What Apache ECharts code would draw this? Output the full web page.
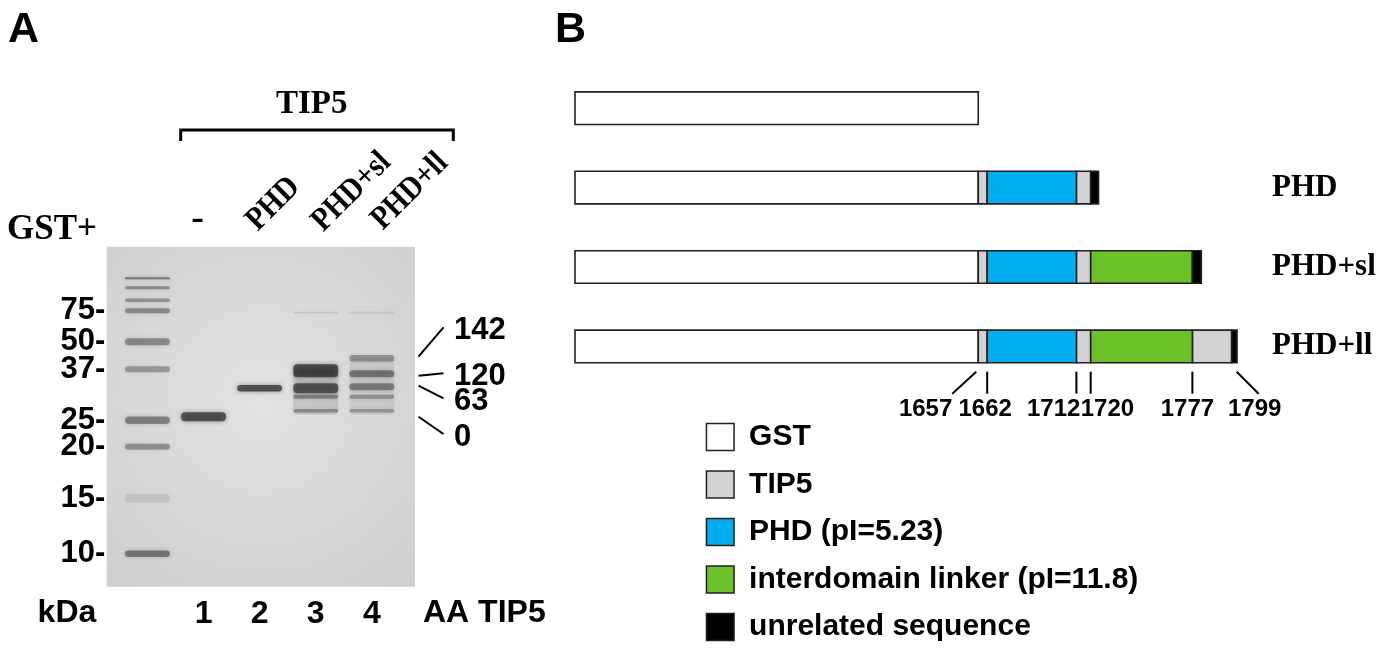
<!DOCTYPE html>
<html>
<head>
<meta charset="utf-8">
<script src="https://cdn.jsdelivr.net/npm/echarts@6/dist/echarts.min.js"></script>
<style>
  html, body { margin: 0; padding: 0; background: #fff; }
  #main { width: 1383px; height: 658px; }
</style>
</head>
<body>
<div id="main"></div>
<script>
// ---------- Panel A: gel (migration in mm from the wells) ----------
const lanes = ['marker', '1', '2', '3', '4'];
const ladderKDa = [250, 150, 100, 75, 50, 37, 25, 20, 15, 10];
const ladderMig = [6.3, 8.2, 10.7, 12.8, 19.0, 24.5, 34.7, 40.0, 50.3, 61.4];
const ladderInk = [0.55, 0.5, 0.45, 0.5, 0.5, 0.42, 0.55, 0.45, 0.12, 0.6];
const ladderSpread = [0.5, 0.6, 0.7, 1.0, 1.4, 1.2, 1.5, 1.2, 1.8, 1.3];
const markedKDa = [75, 50, 37, 25, 20, 15, 10];

// [lane, migration, ink, spread]
const sampleBands = [
  [1, 34.0, 0.85, 1.8],
  [2, 28.3, 0.85, 1.3],
  [3, 29.0, 0.16, 9.0],
  [3, 13.2, 0.15, 0.35],
  [3, 24.8, 0.9, 2.6],
  [3, 28.3, 0.8, 2.0],
  [3, 30.0, 0.5, 0.8],
  [3, 32.8, 0.42, 0.7],
  [4, 28.0, 0.1, 11.0],
  [4, 13.2, 0.12, 0.35],
  [4, 22.3, 0.45, 1.3],
  [4, 25.4, 0.6, 1.4],
  [4, 28.0, 0.55, 1.4],
  [4, 30.0, 0.42, 0.8],
  [4, 32.8, 0.38, 0.7]
];

// amino acids of TIP5 carried by the lane-4 species
const aaTicks = ['142', '120', '63', '0'];
const aaMig = [22.0, 25.8, 27.8, 34.0];

// ---------- Panel B: constructs (TIP5 residue numbering) ----------
const constructs = ['GST', 'PHD', 'PHD+sl', 'PHD+ll'];
const gstLength = 226;
const gstEnd = 1657;
const domainNames = ['GST', 'TIP5', 'PHD (pI=5.23)', 'interdomain linker (pI=11.8)', 'unrelated sequence'];
const domainColors = ['#ffffff', '#d1d2d4', '#00aeef', '#6cc12a', '#000000'];

// [start, end, row]
const gstSeg = [0, 1, 2, 3].map(r => [gstEnd - gstLength, gstEnd, r]);
const tip5Seg = [[1657, 1662, 1], [1712, 1720, 1], [1657, 1662, 2], [1712, 1720, 2],
                 [1657, 1662, 3], [1712, 1720, 3], [1777, 1799, 3]];
const phdSeg = [[1662, 1712, 1], [1662, 1712, 2], [1662, 1712, 3]];
const linkerSeg = [[1720, 1777, 2], [1720, 1777, 3]];
const unrelatedSeg = [[1720, 1724.4, 1], [1777, 1782, 2], [1799, 1802, 3]];
const tickPos = [1657, 1662, 1712, 1720, 1777, 1799];

const SANS = '"Liberation Sans", Arial, sans-serif';
const SERIF = '"Liberation Serif", "Times New Roman", serif';

const chart = echarts.init(document.getElementById('main'));

const ladderBands = ladderMig.map((m, i) => [0, m, ladderInk[i], ladderSpread[i]]);
const markerMig = markedKDa.map(k => ladderMig[ladderKDa.indexOf(k)]);

function renderBand(params, api) {
  const c = api.coord([api.value(0), api.value(1)]);
  const bw = api.size([1, 0])[0] * 0.8;
  const h = Math.abs(api.size([0, api.value(3)])[1]);
  const a = api.value(2) * 0.78;
  const col = 'rgba(35,35,35,' + a + ')';
  return {
    type: 'rect',
    shape: { x: c[0] - bw / 2, y: c[1] - h / 2, width: bw, height: h, r: Math.min(h / 2, 4) },
    style: { fill: col, shadowBlur: 5, shadowColor: col }
  };
}

// line and label offsets for the AA annotations (px)
const AA_SHIFT = [-29.4, -2.4, 12.6, 17.3];
function renderAA(params, api) {
  const rect = params.coordSys;
  const p = api.coord([api.value(0), api.value(1)]);
  const x0 = rect.x + rect.width + 18.6;
  const dy = AA_SHIFT[params.dataIndex];
  return {
    type: 'group',
    children: [
      { type: 'line', shape: { x1: x0, y1: p[1], x2: x0 + 25, y2: p[1] + dy },
        style: { stroke: '#000', lineWidth: 2 } },
      { type: 'text', style: { text: aaTicks[params.dataIndex], x: x0 + 35.5, y: p[1] + dy + 3,
        verticalAlign: 'middle', font: 'bold 31px ' + SANS, fill: '#000' } }
    ]
  };
}

function renderSegment(params, api) {
  const row = api.value(2);
  const p0 = api.coord([api.value(0), row]);
  const p1 = api.coord([api.value(1), row]);
  const h = api.size([0, 1])[1] * 0.41;
  return {
    type: 'rect',
    shape: { x: p0[0], y: p0[1] - h / 2, width: p1[0] - p0[0], height: h },
    style: { fill: api.visual('color'), stroke: '#231f20', lineWidth: 1.6 }
  };
}

// layout of the residue ticks under the last construct
const TICK_LAYOUT = [
  { x0: -2, dx: -24, lx: 0, align: 'right' },
  { x0: 0, dx: 0, lx: -2, align: 'center' },
  { x0: 0, dx: 0, lx: 4, align: 'right' },
  { x0: 0, dx: 0, lx: -10, align: 'left' },
  { x0: 0, dx: 0, lx: -5, align: 'center' },
  { x0: 5, dx: 22, lx: -4, align: 'center' }
];
function renderTick(params, api) {
  const t = TICK_LAYOUT[params.dataIndex];
  const p = api.coord([api.value(0), api.value(1)]);
  const h = api.size([0, 1])[1] * 0.41;
  const yb = p[1] + h / 2;
  const xs = p[0] + t.x0;
  return {
    type: 'group',
    children: [
      { type: 'line', shape: { x1: xs, y1: yb + 9, x2: xs + t.dx, y2: yb + 31 },
        style: { stroke: '#000', lineWidth: 2 } },
      { type: 'text', style: { text: String(api.value(0)), x: xs + t.dx + t.lx, y: yb + 47,
        align: t.align, verticalAlign: 'middle', font: 'bold 24px ' + SANS, fill: '#000' } }
    ]
  };
}

const domainSeries = [gstSeg, tip5Seg, phdSeg, linkerSeg, unrelatedSeg].map((segs, k) => ({
  type: 'custom',
  name: domainNames[k],
  xAxisIndex: 2,
  yAxisIndex: 2,
  renderItem: renderSegment,
  itemStyle: { color: domainColors[k] },
  encode: { x: [0, 1], y: 2 },
  data: segs
}));

const rotLabel = (text, x, y) => ({
  type: 'text', x: x, y: y, rotation: Math.PI / 4, scaleX: 0.88,
  style: { text: text, x: 0, y: 0, align: 'center', verticalAlign: 'middle',
           font: 'bold 33px ' + SERIF, fill: '#000' }
});

chart.setOption({
  animation: false,
  backgroundColor: '#fff',
  grid: [
    { left: 106.7, top: 246.7, width: 308.3, height: 340, show: true, borderWidth: 0,
      backgroundColor: { type: 'radial', x: 0.5, y: 0.45, r: 0.75,
        colorStops: [{ offset: 0, color: '#e3e3e3' }, { offset: 1, color: '#cfcfcf' }] } },
    { left: 119.4, top: 246.7, width: 280.5, height: 340 },
    { left: 575, top: 68.5, width: 662, height: 317.6 }
  ],
  xAxis: [
    { gridIndex: 0, type: 'value', show: false },
    { gridIndex: 1, type: 'category', data: lanes,
      axisLine: { show: false }, axisTick: { show: false }, splitLine: { show: false },
      axisLabel: { formatter: v => (v === 'marker' ? '' : v), margin: 27, verticalAlign: 'middle',
        fontSize: 32, fontWeight: 'bold', fontFamily: SANS, color: '#000' } },
    { gridIndex: 2, type: 'value', min: gstEnd - gstLength, max: 1802, show: false }
  ],
  yAxis: [
    { gridIndex: 0, type: 'value', show: false },
    { gridIndex: 1, type: 'value', inverse: true, min: 0, max: 68,
      axisLine: { show: false }, axisTick: { show: false }, splitLine: { show: false },
      axisLabel: { customValues: markerMig, margin: 14,
        formatter: v => markedKDa[markerMig.indexOf(v)] + '-',
        fontSize: 31, fontWeight: 'bold', fontFamily: SANS, color: '#000' } },
    { gridIndex: 2, type: 'category', data: constructs, inverse: true, position: 'right',
      axisLine: { show: false }, axisTick: { show: false }, splitLine: { show: false },
      axisLabel: { formatter: v => (v === 'GST' ? '' : v), margin: 35,
        fontSize: 31, fontWeight: 'bold', fontFamily: SERIF, color: '#000' } }
  ],
  legend: {
    orient: 'vertical', left: 700.7, top: 417, selectedMode: false,
    icon: 'rect', itemWidth: 27.6, itemHeight: 27, itemGap: 17.5,
    data: domainNames,
    itemStyle: { borderColor: '#231f20', borderWidth: 1.5 },
    textStyle: { fontSize: 30, fontWeight: 'bold', fontFamily: SANS, color: '#000',
                 lineHeight: 30, padding: [0, 0, 0, 10] }
  },
  graphic: [
    { type: 'text', x: 8, y: 30, style: { text: 'A', verticalAlign: 'middle', font: 'bold 43px ' + SANS, fill: '#000' } },
    { type: 'text', x: 555, y: 30, style: { text: 'B', verticalAlign: 'middle', font: 'bold 43px ' + SANS, fill: '#000' } },
    { type: 'text', x: 311.7, y: 104, style: { text: 'TIP5', align: 'center', verticalAlign: 'middle', font: 'bold 33px ' + SERIF, fill: '#000' } },
    { type: 'polyline', shape: { points: [[180.7, 141], [180.7, 130], [453.3, 130], [453.3, 141]] },
      style: { stroke: '#000', lineWidth: 3, fill: null } },
    { type: 'text', x: 7, y: 229.5, style: { text: 'GST+', verticalAlign: 'middle', font: 'bold 35px ' + SERIF, fill: '#000' } },
    { type: 'text', x: 197.5, y: 219, style: { text: '-', align: 'center', verticalAlign: 'middle', font: 'bold 38px ' + SERIF, fill: '#000' } },
    rotLabel('PHD', 273.3, 204),
    rotLabel('PHD+sl', 351.5, 192),
    rotLabel('PHD+ll', 410, 191.5),
    { type: 'text', x: 37.6, y: 613.6, style: { text: 'kDa', verticalAlign: 'middle', font: 'bold 32px ' + SANS, fill: '#000' } },
    { type: 'text', x: 423, y: 613.6, style: { text: 'AA TIP5', verticalAlign: 'middle', font: 'bold 32px ' + SANS, fill: '#000' } }
  ],
  series: [
    { type: 'custom', name: 'bands', xAxisIndex: 1, yAxisIndex: 1, renderItem: renderBand,
      encode: { x: 0, y: 1 }, data: ladderBands.concat(sampleBands) },
    { type: 'custom', name: 'aa', xAxisIndex: 1, yAxisIndex: 1, renderItem: renderAA,
      encode: { x: 0, y: 1 }, data: aaMig.map(m => [4, m]) },
    ...domainSeries,
    { type: 'custom', name: 'ticks', xAxisIndex: 2, yAxisIndex: 2, renderItem: renderTick,
      encode: { x: 0, y: 1 }, data: tickPos.map(p => [p, 3]) }
  ]
});

window.addEventListener('resize', () => chart.resize());
</script>
</body>
</html>
